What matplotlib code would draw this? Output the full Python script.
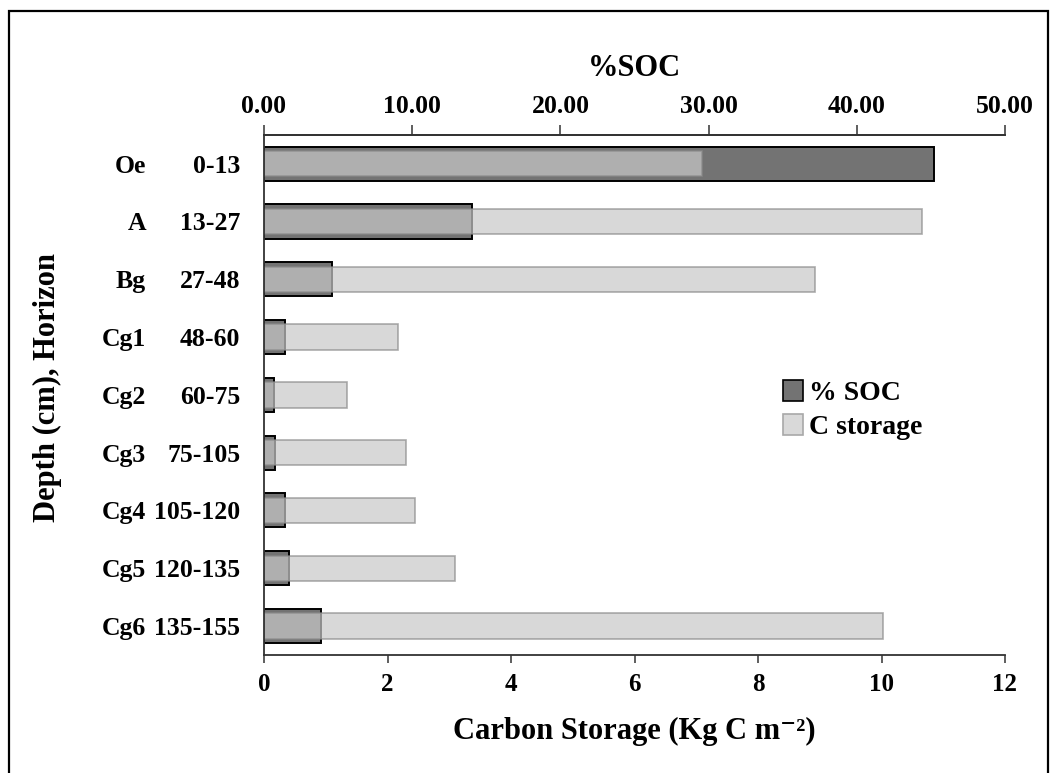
import matplotlib
matplotlib.use("Agg")
import matplotlib.pyplot as plt
from matplotlib.patches import Patch, Rectangle
from matplotlib import transforms

plt.rcParams['font.family'] = ['Liberation Serif', 'DejaVu Serif']
plt.rcParams['font.weight'] = 'bold'

# Soil profile data
horizons = ['Oe', 'A', 'Bg', 'Cg1', 'Cg2', 'Cg3', 'Cg4', 'Cg5', 'Cg6']
depths = ['0-13', '13-27', '27-48', '48-60', '60-75', '75-105', '105-120', '120-135', '135-155']
c_storage = [7.10, 10.65, 8.92, 2.17, 1.34, 2.30, 2.45, 3.09, 10.03]   # Kg C m-2
soc_pct = [45.2, 14.05, 4.6, 1.4, 0.68, 0.72, 1.45, 1.67, 3.84]      # %SOC

storage_ticks = [0, 2, 4, 6, 8, 10, 12]
soc_ticks = [0, 10, 20, 30, 40, 50]

W, H = 1051, 773
fig = plt.figure(figsize=(W / 100, H / 100), dpi=100)

ax_l, ax_r = 264 / W, 1005 / W
ax_t, ax_b = 1 - 134.8 / H, 1 - 654.9 / H
ax = fig.add_axes([ax_l, ax_b, ax_r - ax_l, ax_t - ax_b])
ax_soc = ax.twiny()
ax_soc.set_zorder(ax.get_zorder() - 1)
ax.patch.set_visible(False)

ypos = list(range(len(horizons)))

# %SOC bars (top axis) underneath
ax_soc.barh(ypos, soc_pct, height=0.59, color='#737373', edgecolor='black', linewidth=1.4)
# Carbon storage bars (bottom axis), translucent on top
ax.barh(ypos, c_storage, height=0.44, color='#c9c9c9', alpha=0.707,
        edgecolor='#8a8a8a', linewidth=1.2)

ax.set_xlim(0, 12)
ax_soc.set_xlim(0, 50)
ax.set_ylim(8.5, -0.5)

ax.set_xticks(storage_ticks)
ax.set_xticklabels([str(t) for t in storage_ticks], fontsize=18, fontweight='bold')
ax_soc.set_xticks(soc_ticks)
ax_soc.set_xticklabels([f'{t:.2f}' for t in soc_ticks], fontsize=18.5, fontweight='bold')

ax.set_yticks(ypos)
ax.set_yticklabels(depths, fontsize=18.5, fontweight='bold')
ax.tick_params(axis='y', length=0, pad=17)
ax.tick_params(axis='x', direction='out', length=6, width=1.1, color='#333333', pad=7)
ax_soc.tick_params(axis='x', direction='out', length=7, width=1.1, color='#333333', pad=5)

for a in (ax, ax_soc):
    a.spines['right'].set_visible(False)
    for s in ('left', 'top', 'bottom'):
        a.spines[s].set_color('#333333')
        a.spines[s].set_linewidth(1.3)
ax_soc.spines['left'].set_visible(False)
ax_soc.spines['bottom'].set_visible(False)

# Horizon names column
tr = transforms.blended_transform_factory(fig.transFigure, ax.transData)
for y, h in zip(ypos, horizons):
    ax.text(146 / W, y, h, transform=tr, ha='right', va='center_baseline',
            fontsize=18.5, fontweight='bold')

ax.set_xlabel('Carbon Storage (Kg C m\u207b\u00b2)', fontsize=22, fontweight='bold', labelpad=15)
ax_soc.set_xlabel('%SOC', fontsize=22, fontweight='bold', labelpad=14)
fig.text(47 / W, 1 - 388 / H, 'Depth (cm), Horizon', rotation=90, ha='center', va='center',
         fontsize=22, fontweight='bold')

handles = [Patch(facecolor='#737373', edgecolor='black', linewidth=1.2, label='% SOC'),
           Patch(facecolor='#d9d9d9', edgecolor='#a8a8a8', linewidth=1.2, label='C storage')]
fig.legend(handles=handles, loc='upper left', bbox_to_anchor=(777 / W, 1 - 374 / H),
           frameon=False, fontsize=20, handlelength=0.75, handleheight=0.8,
           handletextpad=0.2, labelspacing=0.3, borderaxespad=0, borderpad=0.2)

# Figure border
fig.patches.append(Rectangle((9 / W, -0.01), (1048 - 9) / W, 1 - 11 / H + 0.01,
                             transform=fig.transFigure, fill=False,
                             edgecolor='black', linewidth=1.6))

fig.savefig('out.png', dpi=100)
